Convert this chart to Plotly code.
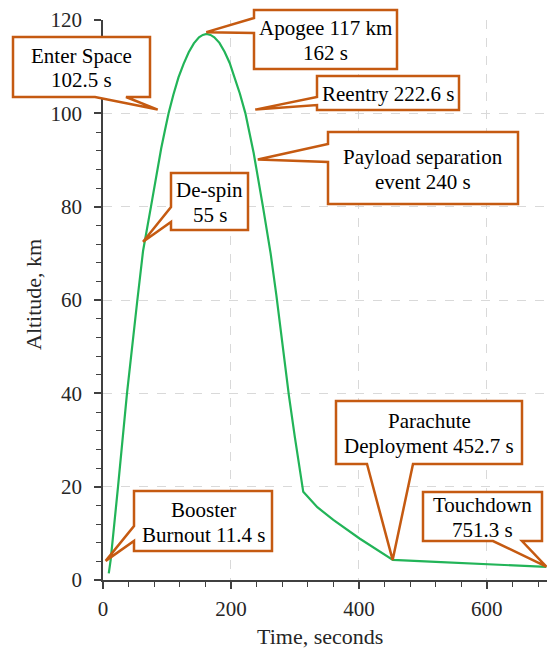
import plotly.graph_objects as go

# Sounding rocket altitude profile (time in s, altitude in km)
time_s = [9, 12, 23.5, 37.5, 53.7, 62.6, 75.6, 83, 91, 97, 102.5, 110, 118, 126,
          134, 142, 150, 156, 162, 168, 174, 182, 190, 198, 206, 214, 222.6, 229,
          235.5, 250, 262, 271, 280, 290.6, 300, 307, 313, 335, 360, 401, 453,
          520, 600, 693]
altitude_km = [1.4, 4.3, 20, 40, 60, 70.5, 80.5, 86.5, 92.5, 96.5, 100, 104, 107.7,
               110.6, 113.1, 115, 116.3, 116.8, 117, 116.8, 116.3, 115.1, 113.2,
               110.8, 107.7, 104.2, 100, 96, 91.5, 80, 70, 61, 51, 39.5, 30.5, 24,
               18.9, 15.6, 12.9, 8.9, 4.3, 3.9, 3.4, 2.8]

# Event callouts: text lines and where each pointer tip sits (s, km)
callout_lines = [
    ["Enter Space", "102.5 s"],
    ["Apogee 117 km", "162 s"],
    ["Reentry 222.6 s"],
    ["Payload separation", "event 240 s"],
    ["De-spin", "55 s"],
    ["Booster", "Burnout 11.4 s"],
    ["Parachute", "Deployment 452.7 s"],
    ["Touchdown", "751.3 s"],
]
tip_time = [85.5, 161.5, 238, 242, 62.6, 4.2, 452.7, 693]
tip_alt = [100.8, 117.4, 100.8, 90.1, 72.5, 4.1, 4.3, 2.85]

# Callout boxes in figure pixels: left, top, right, bottom, wedge side, wedge base
callout_boxes = [
    (13, 37, 150, 97, "bottom", (95, 126)),
    (254, 10, 397, 69, "left", (18, 33)),
    (317, 76, 459, 110, "left", (97, 105)),
    (328, 132, 518, 204, "left", (144, 162)),
    (171, 173, 248, 230, "left", (207, 222)),
    (134, 491, 272, 551, "left", (526, 541)),
    (336, 401, 522, 464, "bottom", (367, 413)),
    (423, 492, 542, 541, "bottom", (493, 522)),
]

W, H = 547, 648
M_L, M_R, M_T, M_B = 103, 0, 20, 68
X_RANGE = [0, 694]
Y_RANGE = [0, 120]
PLOT_W = W - M_L - M_R
PLOT_H = H - M_T - M_B

ORANGE = "rgb(197,90,17)"
GREEN = "rgb(34,180,88)"
AXIS = "#404040"
FONT = "Liberation Serif"


def px_x(px):
    return (px - M_L) / PLOT_W


def px_y(py):
    return (H - M_B - py) / PLOT_H


def data_x(t):
    return (t - X_RANGE[0]) / (X_RANGE[1] - X_RANGE[0])


def data_y(a):
    return (a - Y_RANGE[0]) / (Y_RANGE[1] - Y_RANGE[0])


fig = go.Figure()
fig.add_trace(go.Scatter(
    x=time_s, y=altitude_km, mode="lines",
    line=dict(color=GREEN, width=2.2),
    hoverinfo="skip", showlegend=False,
))

shapes = []
annotations = []
for lines, t, a, box in zip(callout_lines, tip_time, tip_alt, callout_boxes):
    left, top, right, bottom, side, (b0, b1) = box
    L, R, T, B = px_x(left), px_x(right), px_y(top), px_y(bottom)
    tx, ty = data_x(t), data_y(a)
    if side == "left":
        pts = [(L, T), (R, T), (R, B), (L, B), (L, px_y(b1)), (tx, ty), (L, px_y(b0))]
    else:
        pts = [(L, T), (R, T), (R, B), (px_x(b1), B), (tx, ty), (px_x(b0), B), (L, B)]
    path = "M " + " L ".join(f"{x:.5f},{y:.5f}" for x, y in pts) + " Z"
    shapes.append(dict(type="path", path=path, xref="paper", yref="paper",
                       fillcolor="white", line=dict(color=ORANGE, width=2.5),
                       layer="above"))
    cx = (left + right) / 2
    cy = (top + bottom) / 2 + 1
    n = len(lines)
    for i, txt in enumerate(lines):
        ly = cy + (i - (n - 1) / 2) * 25
        annotations.append(dict(
            text=txt, x=px_x(cx), y=px_y(ly), xref="paper", yref="paper",
            xanchor="center", yanchor="middle", showarrow=False,
            font=dict(family=FONT, size=21, color="black"),
        ))

# Axis titles
annotations.append(dict(text="Time, seconds", x=px_x(320), y=px_y(636),
                        xref="paper", yref="paper", showarrow=False,
                        xanchor="center", yanchor="middle",
                        font=dict(family=FONT, size=22, color="#262626")))
annotations.append(dict(text="Altitude, km", x=px_x(33), y=px_y(295),
                        xref="paper", yref="paper", showarrow=False, textangle=-90,
                        xanchor="center", yanchor="middle",
                        font=dict(family=FONT, size=22, color="#262626")))

axis_common = dict(
    showline=True, linecolor=AXIS, linewidth=1.5,
    ticks="outside", ticklen=7, tickwidth=1.5, tickcolor=AXIS,
    showgrid=True, gridcolor="#d9d9d9", gridwidth=1, griddash="dash",
    zeroline=False,
    tickfont=dict(family=FONT, size=21, color="#262626"),
)

fig.update_xaxes(range=X_RANGE, tick0=0, dtick=200, ticklabelstandoff=2,
                 minor=dict(dtick=40, ticks="outside", ticklen=5, tickwidth=1.2,
                            tickcolor=AXIS, showgrid=False),
                 **axis_common)
fig.update_yaxes(range=Y_RANGE, tick0=0, dtick=20, ticklabelstandoff=8,
                 minor=dict(dtick=4, ticks="outside", ticklen=5, tickwidth=1.2,
                            tickcolor=AXIS, showgrid=False),
                 **axis_common)

fig.update_layout(
    width=W, height=H,
    margin=dict(l=M_L, r=M_R, t=M_T, b=M_B, pad=0),
    plot_bgcolor="white", paper_bgcolor="white",
    shapes=shapes, annotations=annotations,
    font=dict(family=FONT),
)

fig.write_html("out.html")
